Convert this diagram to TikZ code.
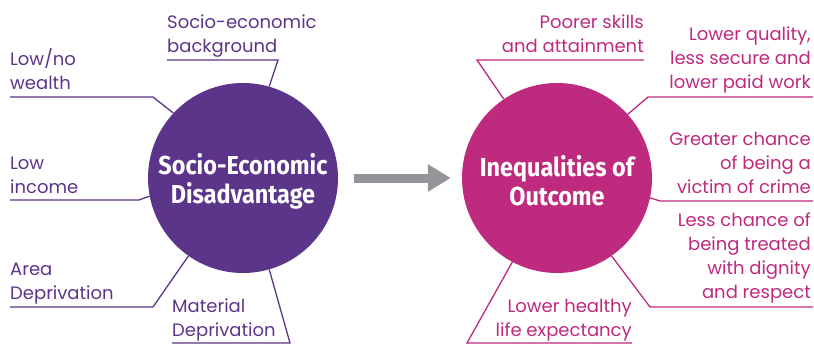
\documentclass[tikz,border=0pt]{standalone}
\usepackage{fontspec}
\setmainfont{Poppins}
\newfontfamily\circlefont[FakeStretch=0.9]{Fira Sans}
\usetikzlibrary{arrows.meta}

\definecolor{sepurple}{HTML}{5B3589}
\definecolor{iomagenta}{HTML}{BD2A7E}
\definecolor{arrowgrey}{HTML}{939598}

\tikzset{
    bigcircle/.style={circle, inner sep=0pt, minimum size=190pt},
    circletext/.style={text=white, align=center, inner sep=0pt,
        font=\circlefont\bfseries\fontsize{26}{29}\selectfont},
    seline/.style={draw=sepurple, line width=1.3pt},
    ioline/.style={draw=iomagenta, line width=1.3pt},
    selabel/.style={text=sepurple, inner sep=0pt, anchor=base west, align=left,
        font=\fontsize{18}{24}\selectfont},
    iolabel/.style={text=iomagenta, inner sep=0pt, anchor=base east, align=right,
        font=\fontsize{18}{24}\selectfont},
}

\begin{document}
\begin{tikzpicture}[x=1pt, y=-1pt]
            \useasboundingbox (0, 0) rectangle (814, 343);

            \node[bigcircle, fill=sepurple] (seda) at (243, 178) {};
            \node[bigcircle, fill=iomagenta] (ineq) at (557, 178) {};
            \node[circletext] (sedatext) at ([yshift=-3pt]seda.center) {Socio-Economic\\Disadvantage};
            \node[circletext] (ineqtext) at ([yshift=-3pt]ineq.center) {Inequalities of\\Outcome};

            \draw[arrowgrey, line width=9pt, -{Triangle[length=23pt, width=26pt]}]
                ([xshift=16pt]seda.east) -- ([xshift=-11pt]ineq.west);

            % left side
            \node[selabel] (backgr) at (167, 52) {Socio-economic\\background};
            \node[selabel] (wealth) at (10, 89) {Low/no\\wealth};
            \node[selabel] (income) at (10, 193) {Low\\income};
            \node[selabel] (area) at (10, 299) {Area\\Deprivation};
            \node[selabel] (matdep) at (172, 336) {Material\\Deprivation};

            \coordinate (backgrA) at (167, 60);
            \coordinate (backgrB) at (278, 60);
            \coordinate (wealthA) at (10, 97);
            \coordinate (wealthB) at (153, 97);
            \coordinate (incomeA) at (10, 200);
            \coordinate (incomeB) at (139, 200);
            \coordinate (areaA) at (10, 307);
            \coordinate (areaB) at (153, 307);
            \coordinate (matdepA) at (172, 343);
            \coordinate (matdepB) at (290, 343);

            \draw[seline] (backgrA) -- (backgrB) -- (seda.74);
            \draw[seline] (wealthA) -- (wealthB) -- (seda.137);
            \draw[seline] (incomeA) -- (incomeB) -- (seda.191);
            \draw[seline] (areaA) -- (areaB) -- (seda.235);
            \draw[seline] (matdepA) -- (matdepB) -- (seda.286);

            % right side
            \node[iolabel] (skills) at (644, 52) {Poorer skills\\and attainment};
            \node[iolabel] (work) at (811, 88) {Lower quality,\\less secure and\\lower paid work};
            \node[iolabel] (crime) at (811, 193) {Greater chance\\of being a\\victim of crime};
            \node[iolabel] (dignity) at (811, 298) {Less chance of\\being treated\\with dignity\\and respect};
            \node[iolabel] (health) at (632, 336) {Lower healthy\\life expectancy};

            \coordinate (skillsA) at (644, 60);
            \coordinate (skillsB) at (477, 60);
            \coordinate (workA) at (813, 97);
            \coordinate (workB) at (648, 97);
            \coordinate (crimeA) at (813, 201);
            \coordinate (crimeB) at (660, 201);
            \coordinate (dignityA) at (813, 307);
            \coordinate (dignityB) at (650, 307);
            \coordinate (healthA) at (632, 343);
            \coordinate (healthB) at (467, 343);

            \draw[ioline] (skillsA) -- (skillsB) -- (ineq.124);
            \draw[ioline] (workA) -- (workB) -- (ineq.42);
            \draw[ioline] (crimeA) -- (crimeB) -- (ineq.348);
            \draw[ioline] (dignityA) -- (dignityB) -- (ineq.305);
            \draw[ioline] (healthA) -- (healthB) -- (ineq.242);
\end{tikzpicture}
\end{document}
